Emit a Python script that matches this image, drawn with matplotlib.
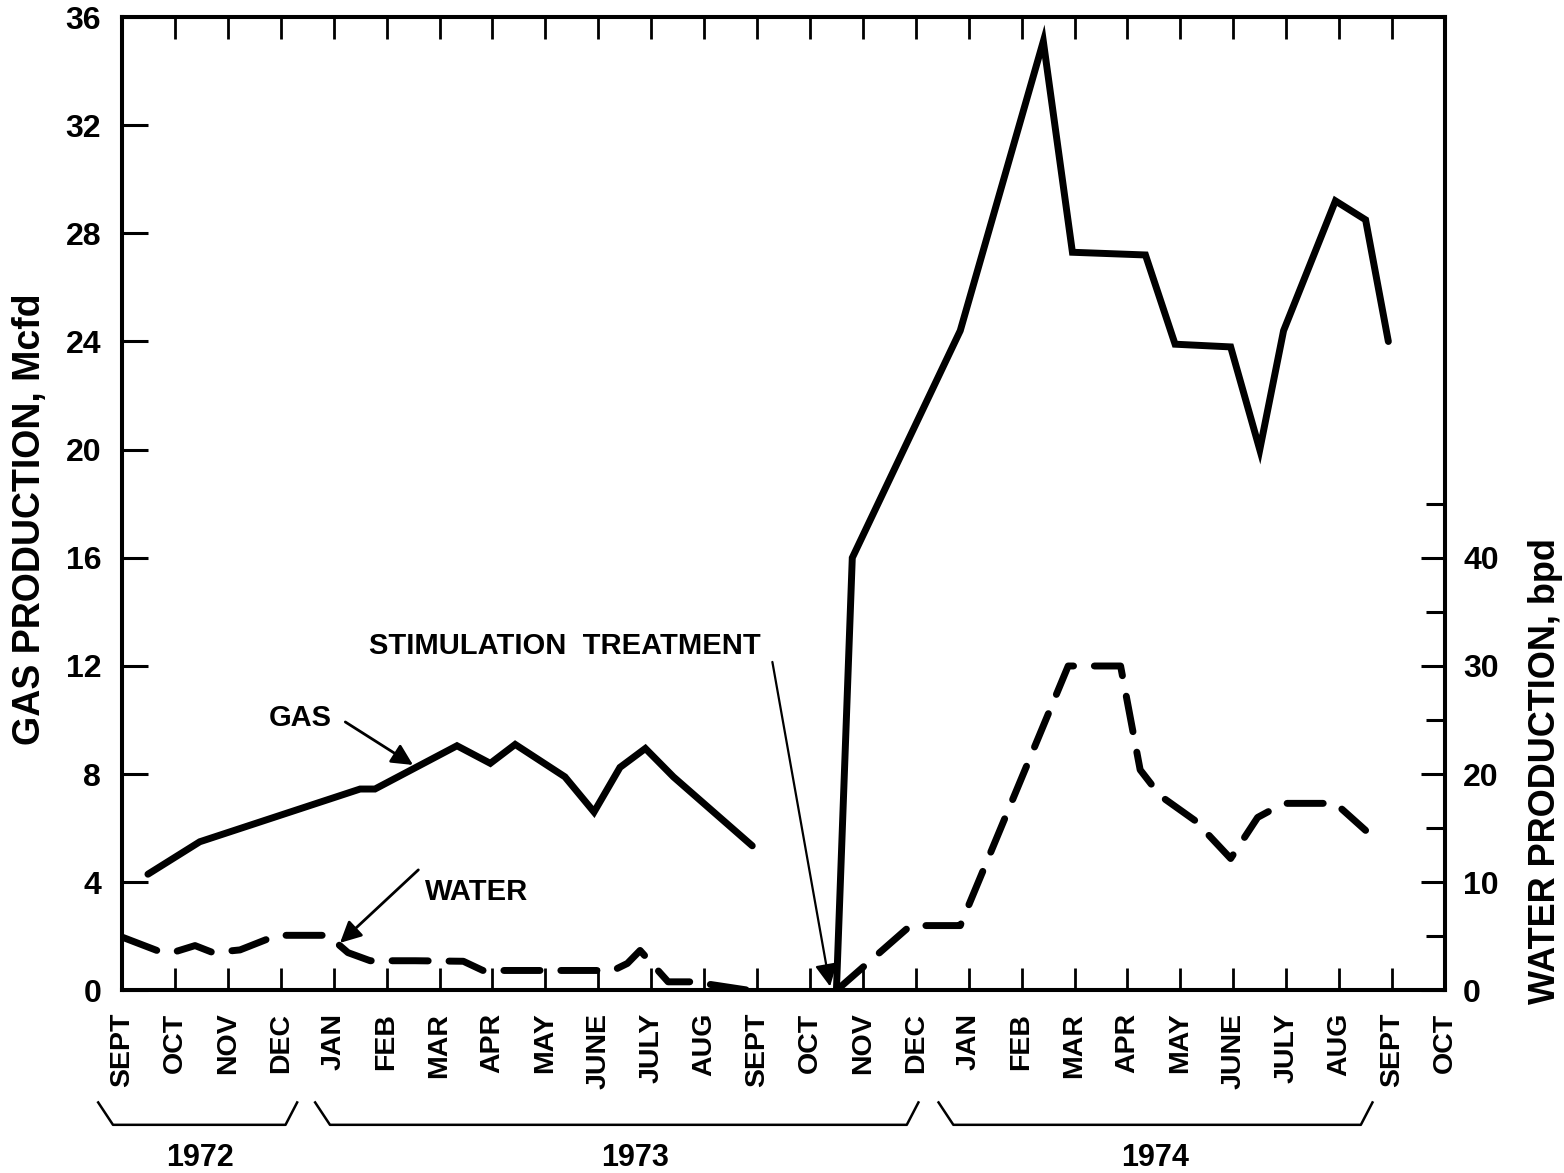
import matplotlib
matplotlib.use("Agg")
import matplotlib.pyplot as plt
import matplotlib.transforms as mtransforms
from matplotlib.lines import Line2D
import numpy as np

plt.rcParams['font.family'] = ['Liberation Sans', 'DejaVu Sans']
plt.rcParams['font.weight'] = 'bold'
plt.rcParams['lines.scale_dashes'] = False

# ---- data (x = months after Sept 1972) ----
months = ["SEPT", "OCT", "NOV", "DEC", "JAN", "FEB", "MAR", "APR", "MAY", "JUNE",
          "JULY", "AUG", "SEPT", "OCT", "NOV", "DEC", "JAN", "FEB", "MAR", "APR",
          "MAY", "JUNE", "JULY", "AUG", "SEPT", "OCT"]

gas_x_before = [0.49, 1.47, 4.50, 4.78, 6.33, 6.96, 7.43, 8.37, 8.92, 9.41, 9.89, 10.42, 11.91]
gas_before = [4.3, 5.5, 7.45, 7.45, 9.05, 8.4, 9.1, 7.9, 6.6, 8.25, 8.95, 7.9, 5.35]

gas_x_after = [13.5, 13.8, 15.84, 17.41, 17.96, 19.34, 19.9, 20.95, 21.5, 21.95, 22.93, 23.5, 23.93]
gas_after = [0.0, 16.0, 24.4, 35.1, 27.3, 27.2, 23.9, 23.8, 20.0, 24.4, 29.2, 28.5, 24.0]

water_x_before = [0.02, 0.66, 0.95, 1.38, 1.72, 2.23, 2.93, 3.89, 4.27, 4.69, 5.54, 6.45,
                  6.82, 9.28, 9.55, 9.79, 10.32, 10.79, 11.87]
water_before = [4.9, 3.7, 3.5, 4.15, 3.5, 3.75, 5.1, 5.1, 3.5, 2.75, 2.75, 2.7,
                1.85, 1.85, 2.5, 3.7, 0.8, 0.8, 0.0]

water_x_after = [13.5, 14.9, 15.84, 17.88, 18.87, 19.24, 19.62, 20.28, 20.95, 21.46, 21.95, 22.93, 23.5]
water_after = [0.0, 6.0, 6.0, 30.0, 30.0, 20.4, 18.0, 15.7, 12.2, 16.0, 17.3, 17.3, 14.8]

gas_ticks = list(range(0, 37, 4))
water_major = [0, 10, 20, 30, 40]
water_minor = [5, 15, 25, 35, 45]

years = ["1972", "1973", "1974"]
year_pos = [1.47, 9.7, 19.53]
year_spans = [(-0.45, 3.31), (3.65, 15.05), (15.43, 23.63)]

# ---- figure ----
fig = plt.figure(figsize=(15.64, 11.73), dpi=100)
ax = fig.add_axes([0.0780, 0.1556, 0.8459, 0.8299])
ax.set_xlim(0, 25)
ax.set_ylim(0, 36)

for s in ax.spines.values():
    s.set_linewidth(2.9)

ax.set_yticks(gas_ticks)
ax.set_yticklabels([str(v) for v in gas_ticks])
ax.tick_params(axis='y', direction='in', length=19, width=2.2, pad=15, labelsize=23)

ax.set_xticks(range(len(months)))
ax.set_xticklabels(months, rotation=90, fontsize=20.5, fontweight='bold')
ax.tick_params(axis='x', direction='in', length=16, width=2.0, pad=16, top=True)

lw = 5.0
ax.plot(gas_x_before, gas_before, color='black', lw=lw, solid_capstyle='round',
        solid_joinstyle='miter')
ax.plot(gas_x_after, gas_after, color='black', lw=lw, solid_capstyle='round',
        solid_joinstyle='miter')

ax2 = ax.twinx()
ax2.set_ylim(0, 90)
ax2.set_yticks(water_major)
ax2.set_yticks(water_minor, minor=True)
ax2.set_yticklabels([str(v) for v in water_major])
ax2.tick_params(axis='y', which='major', direction='in', length=17, width=2.2, pad=13, labelsize=23)
ax2.tick_params(axis='y', which='minor', direction='in', length=14, width=2.2)
for s in ax2.spines.values():
    s.set_linewidth(2.9)

for xs, ys in [(water_x_before, water_before), (water_x_after, water_after)]:
    ax2.plot(xs, ys, color='black', lw=lw, dashes=(26, 15), dash_capstyle='round',
             dash_joinstyle='round')

# ---- annotations ----
arrow = dict(arrowstyle='-|>', lw=2, color='black', mutation_scale=32, shrinkA=0, shrinkB=0)
ax.text(3.36, 10.08, "GAS", fontsize=21, fontweight='bold', ha='center', va='center')
ax.annotate("", xy=(5.5, 8.34), xytext=(4.22, 9.93), arrowprops=arrow)
ax.text(5.73, 3.64, "WATER", fontsize=21, fontweight='bold', ha='left', va='center')
ax.annotate("", xy=(4.12, 1.76), xytext=(5.6, 4.46), arrowprops=arrow)
ax.text(8.37, 12.74, "STIMULATION  TREATMENT", fontsize=21, fontweight='bold',
        ha='center', va='center')
ax.annotate("", xy=(13.38, 0.15), xytext=(12.29, 12.15),
            arrowprops=dict(arrowstyle='-|>', lw=1.6, color='black', mutation_scale=34,
                            shrinkA=0, shrinkB=0))

# ---- year braces ----
trans = mtransforms.blended_transform_factory(ax.transData, ax.transAxes)
for (x0, x1), xc, yr in zip(year_spans, year_pos, years):
    ax.add_line(Line2D([x0, x0 + 0.28, x1 - 0.22, x1], [-0.115, -0.138, -0.138, -0.115],
                       transform=trans, color='black', lw=1.8, clip_on=False))
    ax.text(xc, -0.172, yr, transform=trans, fontsize=22, fontweight='bold',
            ha='center', va='center', clip_on=False)

fig.text(0.019, 0.557, "GAS PRODUCTION, Mcfd", rotation=90, fontsize=27, fontweight='bold',
         ha='center', va='center')
fig.text(0.988, 0.343, "WATER PRODUCTION, bpd", rotation=90, fontsize=26, fontweight='bold',
         ha='center', va='center')

fig.savefig("out.png", dpi=100, facecolor='white')
